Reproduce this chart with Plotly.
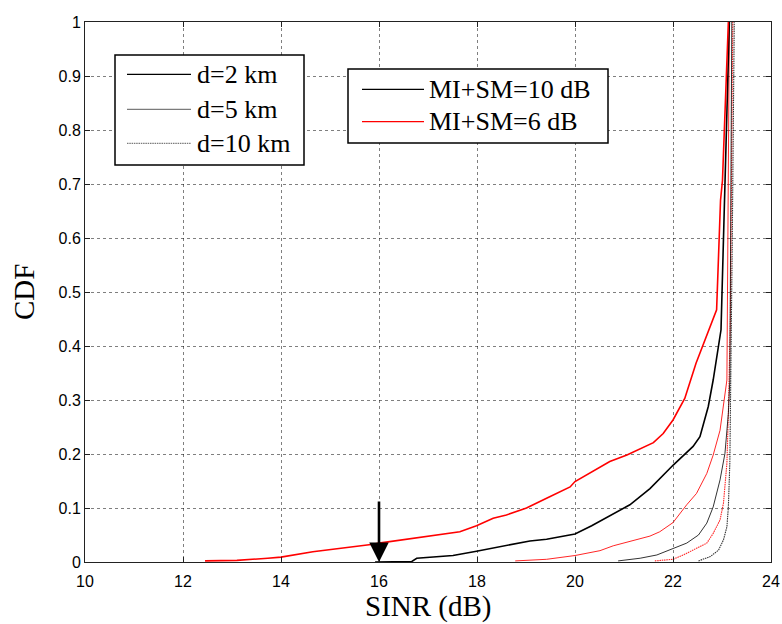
import plotly.graph_objects as go

# ---------------- data ----------------
sinr_2km_6dB = [12.45, 13.1, 13.73, 14.0, 14.65, 15.3, 15.88, 16.0, 16.8, 17.65, 17.99, 18.33, 18.6,
                19.01, 19.42, 19.9, 20.0, 20.51, 20.71, 21.06, 21.33, 21.6, 21.8, 22.0, 22.24,
                22.47, 22.89, 22.97, 23.01, 23.13]
cdf_2km_6dB = [0.002, 0.003, 0.007, 0.009, 0.019, 0.026, 0.033, 0.035, 0.045, 0.056, 0.067, 0.081, 0.087,
               0.10, 0.118, 0.139, 0.149, 0.175, 0.186, 0.198, 0.21, 0.221, 0.238, 0.263, 0.303,
               0.368, 0.467, 0.67, 0.707, 1.0]

sinr_2km_10dB = [15.92, 16.67, 16.77, 17.24, 17.51, 17.99, 18.4, 19.08, 19.42, 20.0, 20.34, 20.58,
                 20.92, 21.12, 21.53, 22.01, 22.41, 22.55, 22.72, 22.82, 22.98, 23.07, 23.15]
cdf_2km_10dB = [0.0, 0.001, 0.007, 0.01, 0.012, 0.02, 0.027, 0.039, 0.042, 0.052, 0.067, 0.079,
                0.096, 0.106, 0.136, 0.18, 0.214, 0.232, 0.288, 0.337, 0.43, 0.707, 1.0]

sinr_5km_6dB = [18.78, 19.42, 20.0, 20.51, 20.78, 21.12, 21.53, 21.73, 22.0, 22.28, 22.48, 22.69,
                22.82, 22.96, 23.06, 23.1, 23.12, 23.15]
cdf_5km_6dB = [0.002, 0.005, 0.012, 0.021, 0.03, 0.038, 0.048, 0.056, 0.073, 0.106, 0.127, 0.164,
               0.198, 0.244, 0.306, 0.337, 0.6, 1.0]

sinr_5km_10dB = [20.88, 21.33, 21.67, 21.94, 22.28, 22.52, 22.69, 22.82, 22.96, 23.06, 23.13, 23.16,
                 23.18, 23.2]
cdf_5km_10dB = [0.002, 0.007, 0.013, 0.023, 0.035, 0.05, 0.072, 0.102, 0.152, 0.201, 0.275, 0.337,
                0.6, 1.0]

sinr_10km_6dB = [21.63, 22.0, 22.21, 22.48, 22.69, 22.82, 22.96, 23.03, 23.1, 23.13, 23.17, 23.22]
cdf_10km_6dB = [0.002, 0.005, 0.013, 0.025, 0.035, 0.053, 0.078, 0.109, 0.183, 0.275, 0.45, 1.0]

sinr_10km_10dB = [22.52, 22.76, 22.93, 23.03, 23.1, 23.13, 23.16, 23.18, 23.21, 23.25]
cdf_10km_10dB = [0.002, 0.01, 0.022, 0.041, 0.065, 0.102, 0.183, 0.337, 0.6, 1.0]

x_ticks = [10, 12, 14, 16, 18, 20, 22, 24]
y_ticks = [0, 0.1, 0.2, 0.3, 0.4, 0.5, 0.6, 0.7, 0.8, 0.9, 1]

distance_labels = ["d=2 km", "d=5 km", "d=10 km"]
power_labels = ["MI+SM=10 dB", "MI+SM=6 dB"]

arrow_x = 16
arrow_top = 0.115

# ---------------- figure ----------------
W, H = 782, 624
L, R, T, B = 85, 11, 22, 62
PW, PH = W - L - R, H - T - B

SERIF = "Liberation Serif, Times New Roman, serif"
SANS = "Liberation Sans, Arial, sans-serif"

RED = "#ff0000"
RED_THIN = "rgba(255,0,0,0.85)"
BLK = "#000000"
BLK_THIN = "rgba(0,0,0,0.8)"
DOTS = "1.5px,0.8px"

fig = go.Figure()

def add(x, y, color, width, dash="solid"):
    fig.add_trace(go.Scatter(x=x, y=y, mode="lines", showlegend=False,
                             line=dict(color=color, width=width, dash=dash)))

add(sinr_10km_10dB, cdf_10km_10dB, BLK_THIN, 1.1, DOTS)
add(sinr_10km_6dB, cdf_10km_6dB, RED_THIN, 1.1, DOTS)
add(sinr_5km_10dB, cdf_5km_10dB, BLK_THIN, 1)
add(sinr_5km_6dB, cdf_5km_6dB, RED_THIN, 1)
add(sinr_2km_10dB, cdf_2km_10dB, BLK, 1.6)
add(sinr_2km_6dB, cdf_2km_6dB, RED, 1.6)

# arrow
fig.add_annotation(x=arrow_x, y=0, ax=arrow_x, ay=arrow_top, xref="x", yref="y",
                   axref="x", ayref="y", text="", showarrow=True, arrowhead=2,
                   arrowsize=1.5, arrowwidth=2.6, arrowcolor="black", standoff=0)

def px(xp):
    return (xp - L) / PW

def py(yp):
    return (H - B - yp) / PH

shapes = []
annotations = []

# legend 1 (distances)
shapes.append(dict(type="rect", xref="paper", yref="paper", x0=px(115), x1=px(304),
                   y0=py(165), y1=py(55), line=dict(color="black", width=1.5),
                   fillcolor="white", layer="above"))
leg1_y = [74.3, 109.3, 143.3]
leg1_styles = [(BLK, 1.2, "solid"), ("rgba(0,0,0,0.65)", 1, "solid"), ("rgba(0,0,0,0.65)", 1, DOTS)]
for lbl, yy, (c, w, d) in zip(distance_labels, leg1_y, leg1_styles):
    shapes.append(dict(type="line", xref="paper", yref="paper", x0=px(127), x1=px(191),
                       y0=py(yy), y1=py(yy), line=dict(color=c, width=w, dash=d), layer="above"))
    annotations.append(dict(x=px(195), y=py(yy), xref="paper", yref="paper", text=lbl,
                            showarrow=False, xanchor="left", yanchor="middle",
                            font=dict(family=SERIF, size=26, color="black")))

# legend 2 (MI+SM)
shapes.append(dict(type="rect", xref="paper", yref="paper", x0=px(348), x1=px(608),
                   y0=py(143), y1=py(69), line=dict(color="black", width=1.5),
                   fillcolor="white", layer="above"))
leg2_y = [89.3, 121.7]
leg2_colors = [BLK, RED]
for lbl, yy, c in zip(power_labels, leg2_y, leg2_colors):
    shapes.append(dict(type="line", xref="paper", yref="paper", x0=px(362), x1=px(424),
                       y0=py(yy), y1=py(yy), line=dict(color=c, width=1.2), layer="above"))
    annotations.append(dict(x=px(427), y=py(yy), xref="paper", yref="paper", text=lbl,
                            showarrow=False, xanchor="left", yanchor="middle",
                            font=dict(family=SERIF, size=26, color="black")))

# axis titles
annotations.append(dict(x=0.5, y=py(606), xref="paper", yref="paper", text="SINR (dB)",
                        showarrow=False, xanchor="center", yanchor="middle",
                        font=dict(family=SERIF, size=29, color="black")))
annotations.append(dict(x=px(24), y=0.5, xref="paper", yref="paper", text="CDF",
                        showarrow=False, xanchor="center", yanchor="middle", textangle=-90,
                        font=dict(family=SERIF, size=29, color="black")))

for a in annotations:
    fig.add_annotation(**a)
for s in shapes:
    fig.add_shape(**s)

axis_common = dict(showline=True, linecolor="#222", linewidth=1, mirror="allticks",
                   ticks="inside", ticklen=5, tickcolor="#222", automargin=False,
                   showgrid=True, gridcolor="rgba(0,0,0,0.5)", gridwidth=1, griddash="dot",
                   zeroline=False, tickfont=dict(family=SANS, size=16, color="black"))

fig.update_xaxes(range=[10, 24], tickvals=x_ticks, ticktext=[str(v) for v in x_ticks],
                 ticklabelstandoff=5, **axis_common)
fig.update_yaxes(range=[0, 1], tickvals=y_ticks, ticktext=[("%g" % v) for v in y_ticks], **axis_common)

fig.update_layout(width=W, height=H, margin=dict(l=L, r=R, t=T, b=B),
                  paper_bgcolor="white", plot_bgcolor="white", showlegend=False)

fig.write_html("out.html")
